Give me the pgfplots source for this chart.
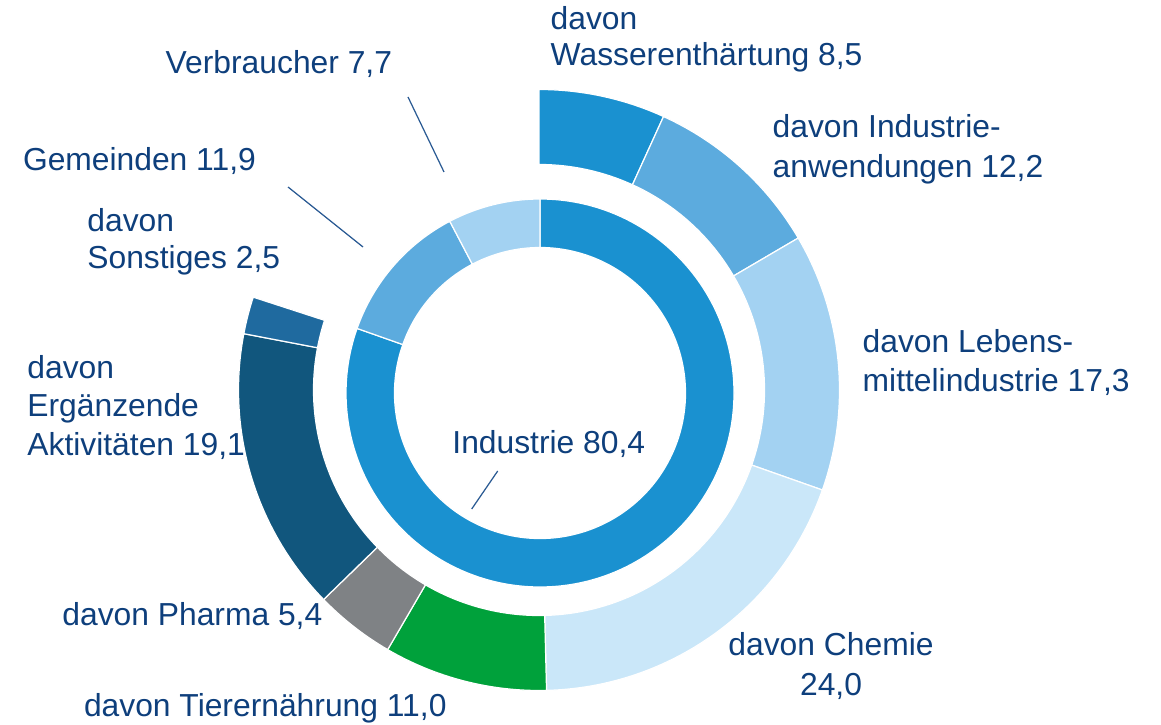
\documentclass[border=0pt]{standalone}
\usepackage{pgfplots}
\pgfplotsset{compat=1.18}
\usepackage{pgfplotstable}
\usepackage{fontspec}
\setmainfont{Liberation Sans}
\definecolor{cInd}{HTML}{1A91D0}
\definecolor{cGem}{HTML}{5CABDE}
\definecolor{cVer}{HTML}{A3D2F2}
\definecolor{cWas}{HTML}{1A91D0}
\definecolor{cIan}{HTML}{5CABDE}
\definecolor{cLeb}{HTML}{A3D2F2}
\definecolor{cChe}{HTML}{CAE7F9}
\definecolor{cTie}{HTML}{00A13B}
\definecolor{cPha}{HTML}{7F8285}
\definecolor{cErg}{HTML}{11567D}
\definecolor{cSon}{HTML}{1F6A9F}
\definecolor{txt}{HTML}{0E3F7C}
\definecolor{lead}{HTML}{2A5A93}

% inner ring: shares in percent
\pgfplotstableread{
v c
80.4 cInd
11.9 cGem
7.7 cVer
}\innertab
% outer ring: breakdown of Industrie (percent of Industrie)
\pgfplotstableread{
v c
8.5 cWas
12.2 cIan
17.3 cLeb
24.0 cChe
11.0 cTie
5.4 cPha
19.1 cErg
2.5 cSon
}\outertab

\begin{document}
\begin{tikzpicture}
\begin{axis}[name=ax,
  scale only axis, width=11.61cm, height=7.24cm,
  xmin=0, xmax=1161, ymin=0, ymax=724,
  hide axis, clip=false, enlargelimits=false]
% inner ring
\pgfmathsetmacro\acur{90}
\pgfplotsforeachungrouped \i in {0,...,2}{%
  \pgfplotstablegetelem{\i}{v}\of\innertab
  \pgfmathsetmacro\val{\pgfplotsretval}%
  \pgfplotstablegetelem{\i}{c}\of\innertab
  \edef\col{\pgfplotsretval}%
  \pgfmathsetmacro\anext{\acur-\val*3.6}%
  \edef\temp{\noexpand\fill[\col, draw=white, line width=0.35pt]
    (axis cs:{540+194*cos(\acur)},{331+194*sin(\acur)})
    arc[start angle=\acur, end angle=\anext, radius=1.94cm]
    -- (axis cs:{540+145.5*cos(\anext)},{331+145.5*sin(\anext)})
    arc[start angle=\anext, end angle=\acur, radius=1.455cm] -- cycle;}%
  \temp
  \global\let\acur\anext
}
% outer ring (breakdown of Industrie), spanning about 288 degrees
\pgfmathsetmacro\acur{90}
\pgfplotsforeachungrouped \i in {0,...,7}{%
  \pgfplotstablegetelem{\i}{v}\of\outertab
  \pgfmathsetmacro\val{\pgfplotsretval}%
  \pgfplotstablegetelem{\i}{c}\of\outertab
  \edef\col{\pgfplotsretval}%
  \pgfmathsetmacro\anext{\acur-\val*2.88}%
  \edef\temp{\noexpand\fill[\col, draw=white, line width=0.35pt]
    (axis cs:{539+300.5*cos(\acur)},{334+300.5*sin(\acur)})
    arc[start angle=\acur, end angle=\anext, radius=3.005cm]
    -- (axis cs:{539+225.5*cos(\anext)},{334+225.5*sin(\anext)})
    arc[start angle=\anext, end angle=\acur, radius=2.255cm] -- cycle;}%
  \temp
  \global\let\acur\anext
}
% leader lines
\draw[lead, line width=0.35pt] (axis cs:408,627) -- (axis cs:444,552);
\draw[lead, line width=0.35pt] (axis cs:288,537) -- (axis cs:363,477);
\draw[lead, line width=0.35pt] (axis cs:497.7,253) -- (axis cs:471.7,215);
% labels
\begin{scope}[every node/.style={inner sep=0pt, anchor=base west, text=txt, font=\fontsize{9.05}{10.8}\selectfont}]
\node at (axis cs:550,694) {davon};
\node at (axis cs:550,658) {Wasserenthärtung 8,5};
\node at (axis cs:772,586) {davon Industrie-};
\node at (axis cs:772,546) {anwendungen 12,2};
\node at (axis cs:862,372) {davon Lebens-};
\node at (axis cs:862,333) {mittelindustrie 17,3};
\node[anchor=base] at (axis cs:831,69) {davon Chemie};
\node[anchor=base] at (axis cs:831,29) {24,0};
\node at (axis cs:83.3,7.3) {davon Tierernährung 11,0};
\node at (axis cs:61.7,99) {davon Pharma 5,4};
\node at (axis cs:26.7,345.7) {davon};
\node at (axis cs:26.7,307.3) {Ergänzende};
\node at (axis cs:26.7,269) {Aktivitäten 19,1};
\node at (axis cs:86.7,492.3) {davon};
\node at (axis cs:86.7,455.7) {Sonstiges 2,5};
\node at (axis cs:22.3,553) {Gemeinden 11,9};
\node at (axis cs:165,650.7) {Verbraucher 7,7};
\node at (axis cs:451.7,270.7) {Industrie 80,4};
\end{scope}
\end{axis}
\pgfresetboundingbox
\path (ax.south west) rectangle (ax.north east);
\end{tikzpicture}
\end{document}
